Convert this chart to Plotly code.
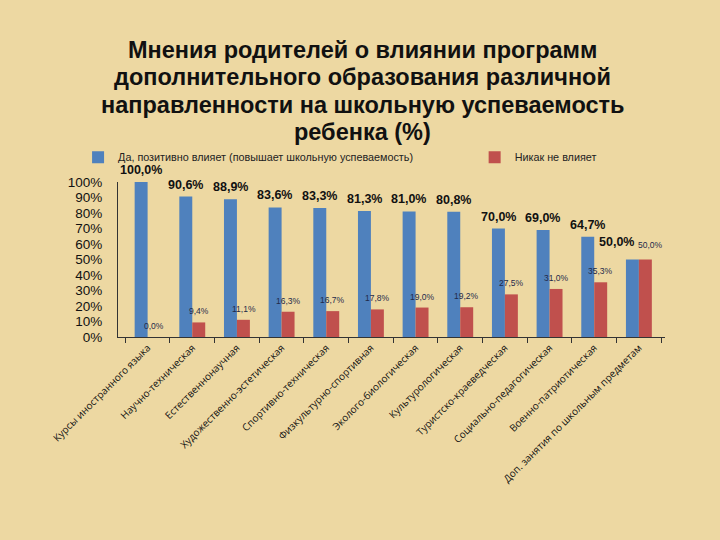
import plotly.graph_objects as go

categories = [
    "Курсы иностранного языка",
    "Научно-техническая",
    "Естественнонаучная",
    "Художественно-эстетическая",
    "Спортивно-техническая",
    "Физкультурно-спортивная",
    "Эколого-биологическая",
    "Культурологическая",
    "Туристско-краеведческая",
    "Социально-педагогическая",
    "Военно-патриотическая",
    "Доп. занятия по школьным предметам",
]
positive = [100.0, 90.6, 88.9, 83.6, 83.3, 81.3, 81.0, 80.8, 70.0, 69.0, 64.7, 50.0]
no_effect = [0.0, 9.4, 11.1, 16.3, 16.7, 17.8, 19.0, 19.2, 27.5, 31.0, 35.3, 50.0]
tick_vals = [0, 10, 20, 30, 40, 50, 60, 70, 80, 90, 100]
tick_text = [f"{v}%" for v in tick_vals]

title_lines = [
    "Мнения родителей о влиянии программ",
    "дополнительного образования различной",
    "направленности на школьную успеваемость",
    "ребенка (%)",
]

W, H = 720, 540
ML, MR, MT, MB = 118, 55, 182, 203
BARGAP = 0.42
plot_w = W - ML - MR
plot_h = H - MT - MB
cat_px = plot_w / len(categories)
half = cat_px * (1 - BARGAP) / 4  # center offset of each bar in a group of 2


def fmt(v):
    return f"{v:.1f}".replace(".", ",") + "%"


def paper_y(py):
    return (H - MB - py) / plot_h


def paper_x(px):
    return (px - ML) / plot_w


fig = go.Figure()
fig.add_trace(go.Bar(
    x=categories, y=positive,
    name="Да, позитивно влияет (повышает школьную успеваемость)",
    marker=dict(color="#4F81BD", line=dict(width=0)),
    legend="legend",
))
fig.add_trace(go.Bar(
    x=categories, y=no_effect,
    name="Никак не влияет",
    marker=dict(color="#C0504D", line=dict(width=0)),
    legend="legend2",
))

annotations = []
for i, line in enumerate(title_lines):
    annotations.append(dict(
        x=paper_x(362), xref="paper", y=paper_y(50 + i * 27.4), yref="paper",
        text=line, showarrow=False, xanchor="center", yanchor="middle",
        font=dict(family="Liberation Sans", size=23.5, color="#111111", weight="bold"),
    ))

for c, p, n in zip(categories, positive, no_effect):
    close = abs(p - n) < 6
    annotations.append(dict(
        x=c, y=p, xref="x", yref="y", text=fmt(p), showarrow=False,
        xanchor="center", yanchor="bottom",
        xshift=-half - (16 if close else 0), yshift=3 + (6 if close else 0),
        font=dict(family="Liberation Sans", size=12.5, color="#111111", weight="bold"),
    ))
    annotations.append(dict(
        x=c, y=n, xref="x", yref="y", text=fmt(n), showarrow=False,
        xanchor="center", yanchor="bottom",
        xshift=half + (5 if close else 0), yshift=4 + (4 if close else 0),
        font=dict(family="Liberation Sans", size=8.5, color="#1F2A4A"),
    ))

fig.update_layout(
    width=W, height=H,
    margin=dict(l=ML, r=MR, t=MT, b=MB),
    paper_bgcolor="#EDD8A2",
    plot_bgcolor="rgba(0,0,0,0)",
    barmode="group",
    bargap=BARGAP,
    bargroupgap=0,
    legend=dict(
        orientation="h", x=-0.073, xanchor="left", y=1.16, yanchor="middle",
        bgcolor="rgba(0,0,0,0)",
        font=dict(family="Liberation Sans", size=10.8, color="#222222"),
    ),
    legend2=dict(
        orientation="h", x=0.652, xanchor="left", y=1.16, yanchor="middle",
        bgcolor="rgba(0,0,0,0)",
        font=dict(family="Liberation Sans", size=10.8, color="#222222"),
    ),
    showlegend=True,
    annotations=annotations,
)
fig.update_xaxes(
    showline=True, linecolor="#333333", linewidth=1,
    ticks="outside", tickson="boundaries", ticklen=5, tickcolor="#333333",
    tickangle=-45,
    tickfont=dict(family="Open Sans", size=10, color="#111111"),
    showgrid=False,
)
fig.update_yaxes(
    range=[0, 100], tickvals=tick_vals, ticktext=tick_text,
    showline=True, linecolor="#333333", linewidth=1,
    ticks="", ticklabelstandoff=12,
    tickfont=dict(family="Liberation Sans", size=13.5, color="#111111"),
    showgrid=False, zeroline=False,
)

fig.write_html("out.html")
